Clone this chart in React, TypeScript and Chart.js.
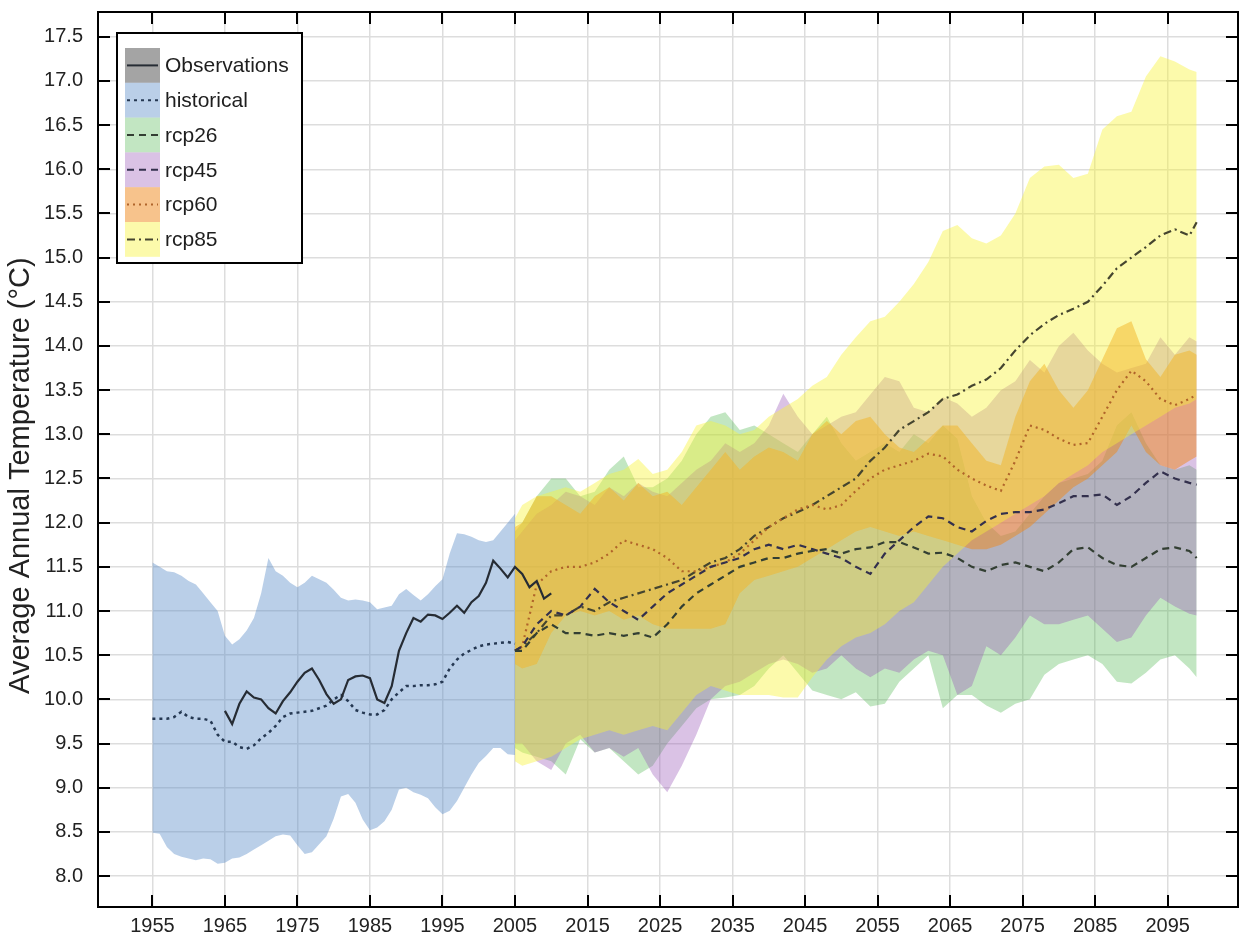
import React, { useEffect, useRef } from 'react';
import { Chart, registerables } from 'chart.js';

Chart.register(...registerables);

const FONT = '"Liberation Sans", Arial, Helvetica, sans-serif';

// ---------- axes ----------
const X_TICKS = [1955, 1965, 1975, 1985, 1995, 2005, 2015, 2025, 2035, 2045, 2055, 2065, 2075, 2085, 2095];
const Y_TICKS = [8.0, 8.5, 9.0, 9.5, 10.0, 10.5, 11.0, 11.5, 12.0, 12.5, 13.0, 13.5, 14.0, 14.5, 15.0, 15.5, 16.0, 16.5, 17.0, 17.5];
const Y_TITLE = 'Average Annual Temperature (°C)    ';

// ---------- historical (1955-2005) ----------
const HIST_YEARS = [1955, 1956, 1957, 1958, 1959, 1960, 1961, 1962, 1963, 1964, 1965, 1966, 1967, 1968, 1969, 1970,
  1971, 1972, 1973, 1974, 1975, 1976, 1977, 1978, 1979, 1980, 1981, 1982, 1983, 1984, 1985, 1986, 1987, 1988, 1989,
  1990, 1991, 1992, 1993, 1994, 1995, 1996, 1997, 1998, 1999, 2000, 2001, 2002, 2003, 2004, 2005];
const HIST_UPPER = [11.55, 11.5, 11.45, 11.44, 11.4, 11.34, 11.3, 11.2, 11.1, 11.0, 10.72, 10.62, 10.68, 10.78, 10.92, 11.2,
  11.6, 11.45, 11.4, 11.32, 11.27, 11.32, 11.4, 11.36, 11.32, 11.24, 11.15, 11.12, 11.13, 11.12, 11.1, 11.02, 11.04, 11.06, 11.19,
  11.25, 11.18, 11.12, 11.19, 11.28, 11.36, 11.65, 11.88, 11.87, 11.84, 11.8, 11.78, 11.8, 11.9, 12.0, 12.1];
const HIST_LOWER = [8.49, 8.48, 8.33, 8.25, 8.22, 8.2, 8.18, 8.2, 8.19, 8.14, 8.15, 8.2, 8.21, 8.25, 8.3, 8.35,
  8.4, 8.45, 8.47, 8.46, 8.35, 8.25, 8.27, 8.36, 8.45, 8.65, 8.9, 8.93, 8.83, 8.64, 8.52, 8.55, 8.62, 8.75, 8.98,
  9.0, 8.95, 8.92, 8.88, 8.78, 8.7, 8.74, 8.85, 9.0, 9.15, 9.28, 9.36, 9.45, 9.45, 9.38, 9.37];
const HIST_MEAN = [9.78, 9.78, 9.78, 9.8, 9.86, 9.8, 9.78, 9.78, 9.76, 9.6, 9.52, 9.52, 9.46, 9.44, 9.48, 9.56,
  9.62, 9.7, 9.8, 9.84, 9.85, 9.86, 9.87, 9.9, 9.93, 10.0, 10.05, 9.98, 9.88, 9.85, 9.83, 9.83, 9.88, 10.0, 10.08,
  10.15, 10.15, 10.16, 10.16, 10.17, 10.2, 10.35, 10.45, 10.52, 10.56, 10.6, 10.62, 10.63, 10.64, 10.65, 10.63];

// ---------- observations (1965-2010) ----------
const OBS_YEARS = [1965, 1966, 1967, 1968, 1969, 1970, 1971, 1972, 1973, 1974, 1975, 1976, 1977, 1978, 1979, 1980,
  1981, 1982, 1983, 1984, 1985, 1986, 1987, 1988, 1989, 1990, 1991, 1992, 1993, 1994, 1995, 1996, 1997, 1998, 1999,
  2000, 2001, 2002, 2003, 2004, 2005, 2006, 2007, 2008, 2009, 2010];
const OBS_VALUES = [9.87, 9.72, 9.95, 10.09, 10.02, 10.0, 9.9, 9.84, 9.98, 10.08, 10.2, 10.3, 10.35, 10.22, 10.06, 9.95,
  10.0, 10.22, 10.26, 10.27, 10.24, 10.0, 9.96, 10.15, 10.55, 10.75, 10.92, 10.88, 10.96, 10.95, 10.91, 10.98, 11.06, 10.98, 11.1,
  11.17, 11.32, 11.57, 11.48, 11.38, 11.5, 11.42, 11.27, 11.34, 11.14, 11.2];

// ---------- scenarios (2005-2099) ----------
const RCP_YEARS = [2005, 2006, 2008, 2010, 2012, 2014, 2016, 2018, 2020, 2022, 2024, 2026, 2028, 2030, 2032, 2034,
  2036, 2038, 2040, 2042, 2044, 2046, 2048, 2050, 2052, 2054, 2056, 2058, 2060, 2062, 2064, 2066, 2068, 2070, 2072,
  2074, 2076, 2078, 2080, 2082, 2084, 2086, 2088, 2090, 2092, 2094, 2096, 2098, 2099];

const RCP26_UPPER = [11.9, 12.0, 12.3, 12.5, 12.5, 12.3, 12.35, 12.6, 12.75, 12.4, 12.4, 12.5, 12.7, 13.0, 13.2, 13.25,
  13.05, 13.1, 13.0, 12.9, 12.8, 13.0, 13.2, 12.9, 12.7, 12.8, 12.9, 12.8, 13.0, 12.9, 13.1, 12.95, 12.3, 12.0, 11.85,
  11.9, 12.1, 12.3, 12.45, 12.5, 12.55, 12.7, 13.1, 13.25, 12.9, 12.65, 12.6, 12.65, 12.6];
const RCP26_LOWER = [9.45, 9.4, 9.35, 9.3, 9.15, 9.55, 9.4, 9.45, 9.3, 9.15, 9.25, 9.5, 9.7, 9.9, 10.0, 10.02,
  10.05, 10.15, 10.35, 10.5, 10.3, 10.1, 10.05, 10.0, 10.08, 9.92, 9.95, 10.2, 10.35, 10.5, 9.9, 10.05, 10.05, 9.93, 9.85,
  9.95, 10.0, 10.28, 10.4, 10.45, 10.5, 10.4, 10.2, 10.18, 10.3, 10.45, 10.5, 10.35, 10.25];
const RCP26_MEAN = [10.55, 10.55, 10.75, 10.85, 10.75, 10.75, 10.72, 10.75, 10.72, 10.75, 10.7, 10.85, 11.05, 11.2, 11.3, 11.4,
  11.5, 11.55, 11.6, 11.6, 11.65, 11.68, 11.7, 11.65, 11.7, 11.72, 11.78, 11.78, 11.72, 11.65, 11.66, 11.6, 11.5, 11.45, 11.52,
  11.55, 11.5, 11.45, 11.55, 11.7, 11.72, 11.6, 11.52, 11.5, 11.6, 11.7, 11.72, 11.68, 11.6];

const RCP45_UPPER = [11.8, 11.9, 12.1, 12.2, 12.35, 12.3, 12.2, 12.4, 12.3, 12.45, 12.35, 12.3, 12.45, 12.6, 12.7, 12.9,
  12.8, 12.9, 13.1, 13.46, 13.2, 13.0, 13.1, 13.2, 13.25, 13.45, 13.65, 13.6, 13.3, 13.25, 13.42, 13.35, 13.2, 13.3, 13.5,
  13.6, 13.84, 13.7, 14.0, 14.15, 13.95, 13.8, 13.7, 13.75, 13.8, 14.1, 13.9, 14.1, 14.05];
const RCP45_LOWER = [9.5, 9.5, 9.3, 9.2, 9.5, 9.6, 9.4, 9.45, 9.35, 9.45, 9.15, 8.95, 9.25, 9.6, 10.0, 10.15,
  10.2, 10.3, 10.4, 10.45, 10.4, 10.3, 10.35, 10.5, 10.35, 10.25, 10.35, 10.3, 10.45, 10.55, 10.5, 10.05, 10.15, 10.6, 10.5,
  10.7, 10.95, 10.85, 10.85, 10.9, 10.95, 10.8, 10.65, 10.7, 10.95, 11.15, 11.05, 10.97, 10.95];
const RCP45_MEAN = [10.55, 10.6, 10.85, 11.0, 10.95, 11.05, 11.25, 11.1, 11.0, 10.9, 11.05, 11.2, 11.3, 11.4, 11.5, 11.55,
  11.6, 11.7, 11.75, 11.7, 11.75, 11.7, 11.65, 11.6, 11.5, 11.42, 11.65, 11.8, 11.95, 12.07, 12.05, 11.95, 11.9, 12.02, 12.1,
  12.12, 12.12, 12.15, 12.22, 12.3, 12.3, 12.32, 12.2, 12.3, 12.45, 12.58, 12.5, 12.45, 12.43];

const RCP60_UPPER = [11.95, 12.0, 12.3, 12.3, 12.2, 12.1, 12.3, 12.4, 12.25, 12.45, 12.3, 12.35, 12.2, 12.4, 12.6, 12.8,
  12.6, 12.75, 12.85, 12.8, 12.7, 13.0, 13.15, 13.0, 13.15, 13.2, 13.0, 12.85, 12.8, 12.95, 13.1, 13.1, 12.9, 12.7, 12.65,
  13.2, 13.6, 13.8, 13.5, 13.3, 13.5, 13.85, 14.2, 14.28, 13.85, 13.65, 13.9, 13.95, 13.9];
const RCP60_LOWER = [10.4, 10.35, 10.4, 10.75, 10.95, 11.0, 10.95, 11.0, 10.9, 10.95, 10.85, 10.8, 10.8, 10.8, 10.8, 10.85,
  11.2, 11.35, 11.4, 11.45, 11.5, 11.6, 11.7, 11.8, 11.9, 11.95, 11.9, 11.85, 11.9, 11.85, 11.8, 11.75, 11.7, 11.7, 11.75,
  11.85, 11.95, 12.1, 12.25, 12.4, 12.5, 12.65, 12.8, 13.1, 12.8, 12.65, 12.6, 12.7, 12.75];
const RCP60_MEAN = [10.55, 10.6, 11.3, 11.45, 11.5, 11.5, 11.55, 11.65, 11.8, 11.75, 11.7, 11.6, 11.45, 11.45, 11.5, 11.55,
  11.65, 11.8, 11.95, 12.05, 12.15, 12.2, 12.15, 12.2, 12.36, 12.5, 12.6, 12.65, 12.7, 12.78, 12.75, 12.6, 12.5, 12.42, 12.36,
  12.7, 13.1, 13.05, 12.95, 12.88, 12.9, 13.2, 13.5, 13.72, 13.6, 13.4, 13.33, 13.4, 13.45];

const RCP85_UPPER = [12.05, 12.2, 12.3, 12.35, 12.4, 12.35, 12.45, 12.55, 12.6, 12.72, 12.55, 12.6, 12.8, 13.1, 13.15, 13.1,
  13.0, 13.05, 13.2, 13.3, 13.4, 13.55, 13.65, 13.9, 14.1, 14.28, 14.33, 14.5, 14.7, 14.95, 15.3, 15.37, 15.22, 15.16, 15.25,
  15.5, 15.9, 16.03, 16.05, 15.9, 15.95, 16.45, 16.6, 16.65, 17.05, 17.28, 17.22, 17.13, 17.1];
const RCP85_LOWER = [9.3, 9.25, 9.3, 9.35, 9.45, 9.55, 9.6, 9.65, 9.6, 9.65, 9.7, 9.65, 9.85, 10.05, 10.15, 10.1,
  10.05, 10.05, 10.05, 10.02, 10.02, 10.25, 10.45, 10.6, 10.7, 10.75, 10.85, 11.0, 11.1, 11.3, 11.5, 11.65, 11.8, 11.9, 12.0,
  12.1, 12.2, 12.3, 12.45, 12.55, 12.65, 12.8, 12.9, 13.0, 13.1, 13.2, 13.3, 13.35, 13.4];
const RCP85_MEAN = [10.55, 10.6, 10.75, 10.95, 10.95, 11.05, 11.0, 11.1, 11.15, 11.2, 11.25, 11.3, 11.35, 11.45, 11.55, 11.6,
  11.7, 11.85, 11.95, 12.05, 12.12, 12.2, 12.3, 12.4, 12.5, 12.7, 12.85, 13.05, 13.15, 13.25, 13.4, 13.45, 13.55, 13.62, 13.75,
  13.95, 14.12, 14.25, 14.35, 14.42, 14.5, 14.68, 14.88, 15.0, 15.12, 15.25, 15.32, 15.25, 15.4];

// ---------- styles ----------
const LEGEND_LABELS = ['Observations', 'historical', 'rcp26', 'rcp45', 'rcp60', 'rcp85'];
const FILLS = ['rgba(90,90,90,0.55)', 'rgba(90,140,200,0.42)', 'rgba(70,180,70,0.33)', 'rgba(150,80,180,0.35)', 'rgba(240,135,25,0.5)', 'rgba(248,242,55,0.42)'];
const LINE_COLORS = ['#262c34', '#253852', '#333f33', '#33304d', '#b0642a', '#45452f'];
const LINE_DASHES: number[][] = [[], [3, 4], [7, 5], [7, 5], [2, 4], [8, 4, 2, 4]];

const xy = (years: number[], vals: number[]) => years.map((x, i) => ({ x, y: vals[i] }));

const band = (label: string, years: number[], up: number[], lo: number[], fill: string, order: number) => [
  { label: label + ' max', data: xy(years, up), fill: '+1', backgroundColor: fill, borderColor: 'rgba(0,0,0,0)', borderWidth: 0, pointRadius: 0, order, tension: 0 },
  { label: label + ' min', data: xy(years, lo), fill: false, backgroundColor: fill, borderColor: 'rgba(0,0,0,0)', borderWidth: 0, pointRadius: 0, order, tension: 0 },
];

const line = (label: string, years: number[], vals: number[], idx: number, width = 2) => ({
  label, data: xy(years, vals), fill: false, borderColor: LINE_COLORS[idx], borderDash: LINE_DASHES[idx],
  borderWidth: width, pointRadius: 0, order: 0, tension: 0,
});

const framePlugin = {
  id: 'frameTicks',
  afterDatasetsDraw(chart: any) {
    const { ctx, chartArea: a, scales } = chart;
    ctx.save();
    ctx.strokeStyle = '#000';
    ctx.lineWidth = 2;
    ctx.beginPath();
    const len = 12;
    X_TICKS.forEach((v) => {
      const px = Math.round(scales.x.getPixelForValue(v));
      ctx.moveTo(px, a.bottom); ctx.lineTo(px, a.bottom - len);
      ctx.moveTo(px, a.top); ctx.lineTo(px, a.top + len);
    });
    Y_TICKS.forEach((v) => {
      const py = Math.round(scales.y.getPixelForValue(v));
      ctx.moveTo(a.left, py); ctx.lineTo(a.left + len, py);
      ctx.moveTo(a.right, py); ctx.lineTo(a.right - len, py);
    });
    ctx.stroke();
    ctx.strokeRect(a.left, a.top, a.right - a.left, a.bottom - a.top);
    ctx.restore();
  },
};

const legendPlugin = {
  id: 'boxLegend',
  afterDraw(chart: any) {
    const { ctx, chartArea: a } = chart;
    const x0 = a.left + 19;
    const y0 = a.top + 21;
    const w = 185;
    const h = 230;
    const row = 34.8;
    ctx.save();
    ctx.fillStyle = '#ffffff';
    ctx.fillRect(x0, y0, w, h);
    LEGEND_LABELS.forEach((label, i) => {
      const ry = y0 + 15 + i * row;
      ctx.fillStyle = FILLS[i];
      ctx.fillRect(x0 + 8, ry, 35, row);
      ctx.beginPath();
      ctx.setLineDash(LINE_DASHES[i]);
      ctx.strokeStyle = LINE_COLORS[i];
      ctx.lineWidth = 2;
      ctx.moveTo(x0 + 10, ry + row / 2);
      ctx.lineTo(x0 + 41, ry + row / 2);
      ctx.stroke();
      ctx.setLineDash([]);
      ctx.fillStyle = '#1e1e1e';
      ctx.font = `21px ${FONT}`;
      ctx.textBaseline = 'middle';
      ctx.textAlign = 'left';
      ctx.fillText(label, x0 + 48, ry + row / 2 + 1);
    });
    ctx.strokeStyle = '#000';
    ctx.lineWidth = 2;
    ctx.strokeRect(x0, y0, w, h);
    ctx.restore();
  },
};

export default function App() {
  const ref = useRef<HTMLCanvasElement | null>(null);

  useEffect(() => {
    if (!ref.current) return;
    const datasets: any[] = [
      line('Observations', OBS_YEARS, OBS_VALUES, 0, 2.2),
      line('historical', HIST_YEARS, HIST_MEAN, 1, 2.5),
      line('rcp26', RCP_YEARS, RCP26_MEAN, 2, 2.2),
      line('rcp45', RCP_YEARS, RCP45_MEAN, 3, 2.2),
      line('rcp60', RCP_YEARS, RCP60_MEAN, 4, 2.2),
      line('rcp85', RCP_YEARS, RCP85_MEAN, 5, 2.2),
      ...band('historical', HIST_YEARS, HIST_UPPER, HIST_LOWER, FILLS[1], 10),
      ...band('rcp26', RCP_YEARS, RCP26_UPPER, RCP26_LOWER, FILLS[2], 9),
      ...band('rcp45', RCP_YEARS, RCP45_UPPER, RCP45_LOWER, FILLS[3], 8),
      ...band('rcp60', RCP_YEARS, RCP60_UPPER, RCP60_LOWER, FILLS[4], 7),
      ...band('rcp85', RCP_YEARS, RCP85_UPPER, RCP85_LOWER, FILLS[5], 6),
    ];
    const chart = new Chart(ref.current, {
      type: 'line',
      data: { datasets },
      plugins: [framePlugin, legendPlugin],
      options: {
        animation: false,
        responsive: false,
        devicePixelRatio: 1,
        layout: { padding: { left: 0, top: 12, right: 2, bottom: 0 } },
        plugins: { legend: { display: false }, tooltip: { enabled: false } },
        scales: {
          x: {
            type: 'linear',
            min: 1947.5,
            max: 2104.7,
            afterBuildTicks: (s: any) => { s.ticks = X_TICKS.map((v) => ({ value: v })); },
            afterFit: (s: any) => { s.height = 34; s.paddingLeft = 0; s.paddingRight = 0; },
            grid: { color: '#dddddd', lineWidth: 1.5, drawTicks: false },
            border: { display: false },
            ticks: {
              autoSkip: false, maxRotation: 0, padding: 7, color: '#222',
              font: { family: FONT, size: 20 },
              callback: (v: any) => String(v),
            },
          },
          y: {
            type: 'linear',
            min: 7.65,
            max: 17.78,
            afterBuildTicks: (s: any) => { s.ticks = Y_TICKS.map((v) => ({ value: v })); },
            afterFit: (s: any) => { s.width = 98; s.paddingTop = 0; s.paddingBottom = 0; },
            grid: { color: '#dddddd', lineWidth: 1.5, drawTicks: false },
            border: { display: false },
            ticks: {
              padding: 15, color: '#222',
              font: { family: FONT, size: 20 },
              callback: (v: any) => Number(v).toFixed(1),
            },
            title: {
              display: true, text: Y_TITLE, color: '#222',
              font: { family: FONT, size: 29 },
              padding: { top: 4, bottom: 0 },
            },
          },
        },
      } as any,
    });
    return () => chart.destroy();
  }, []);

  return (
    <div style={{ position: 'fixed', left: 0, top: 0, width: 1240, height: 941, background: '#fff' }}>
      <canvas ref={ref} width={1240} height={941} style={{ display: 'block' }} />
    </div>
  );
}
